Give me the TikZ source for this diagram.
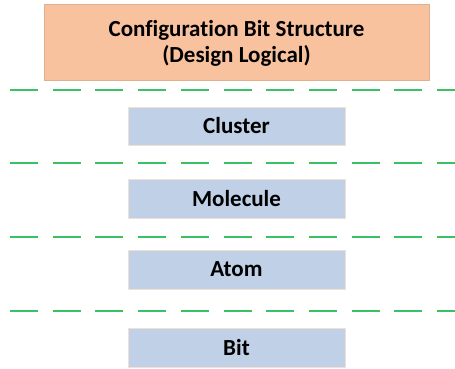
\documentclass[tikz,border=0pt]{standalone}
\usepackage{fontspec}
\setmainfont[Ligatures={NoCommon}]{Carlito}
\begin{document}
\begin{tikzpicture}[x=1pt,y=-1pt,
  topbox/.style={fill=orangefill, draw=orangefill!90!black, line width=0.3pt, inner sep=0pt},
  levelbox/.style={fill=bluefill, draw=blueedge, line width=0.6pt, inner sep=0pt},
  lbl/.style={font=\bfseries\fontsize{23}{26}\selectfont, text=black, align=center},
  sep/.style={draw=greendash, line width=1.6pt, dash pattern=on 28pt off 14.7pt}
]
\definecolor{orangefill}{HTML}{F8C29E}
\definecolor{bluefill}{HTML}{C0D0E6}
\definecolor{blueedge}{HTML}{F0E0D4}
\definecolor{greendash}{HTML}{3CC064}
\useasboundingbox (0,0) rectangle (455,369);
\path[topbox] (44,4) rectangle (429,80);
\node[lbl] (top) at (236.5,43) {Configuration Bit Structure\\(Design Logical)};
\path[levelbox] (128,107) rectangle (345,145);
\node[lbl] (cluster) at (236.5,126) {Cluster};
\path[levelbox] (128,179) rectangle (345,218);
\node[lbl] (molecule) at (236.5,198.5) {Molecule};
\path[levelbox] (128,250) rectangle (345,289);
\node[lbl] (atom) at (236.5,269.5) {Atom};
\path[levelbox] (128,328) rectangle (345,367);
\node[lbl] (bit) at (236.5,347.5) {Bit};
\coordinate (l1a) at (10,90); \coordinate (l1b) at (455,90);
\coordinate (l2a) at (10,163); \coordinate (l2b) at (455,163);
\coordinate (l3a) at (10,237); \coordinate (l3b) at (455,237);
\coordinate (l4a) at (10,311); \coordinate (l4b) at (455,311);
\draw[sep] (l1a) -- (l1b);
\draw[sep] (l2a) -- (l2b);
\draw[sep] (l3a) -- (l3b);
\draw[sep] (l4a) -- (l4b);
\end{tikzpicture}
\end{document}
